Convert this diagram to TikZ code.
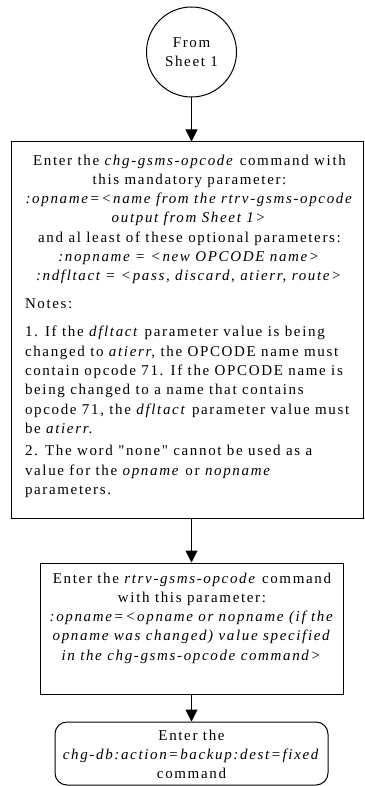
\documentclass[tikz,border=0pt]{standalone}
\usepackage{fontspec}
\setmainfont{Liberation Serif}[LetterSpace=11, Ligatures=TeXOff]
\usetikzlibrary{arrows.meta}
\begin{document}
\begin{tikzpicture}[x=1pt,y=-1pt,
  txt/.style={font=\fontsize{15}{19.3}\selectfont, inner sep=0pt, outer sep=0pt},
  box/.style={draw=black, line width=1pt, inner sep=0pt},
  arr/.style={draw=black, line width=1pt, -{Triangle[length=12pt,width=12pt]}},
]
\useasboundingbox (0,0) rectangle (364,786);
\node[box, circle, minimum size=90pt, txt, align=center] (start) at (191.5,52) {From\\Sheet 1};

\node[box, minimum width=352pt, minimum height=376pt] (chg) at (187,330) {};
\node[txt, align=center, anchor=north] (chgtxt) at (189.5,153) {\rule{0pt}{12pt}Enter the \textit{chg-gsms-opcode} command with\\
this mandatory parameter:\\
\textit{:opname=<name from the rtrv-gsms-opcode}\\
\textit{output from Sheet 1>}\\
and al least of these optional parameters:\\
\textit{:nopname = <new OPCODE name>}\\
\textit{:ndfltact = <pass, discard, atierr, route>}};
\node[txt, align=left, anchor=north west] (notes) at (25,296.8) {\rule{0pt}{12pt}Notes:};
\node[txt, align=left, anchor=north west] (note1) at (25,324.8) {\rule{0pt}{12pt}1. If the \textit{dfltact} parameter value is being\\
changed to \textit{atierr}, the OPCODE name must\\
contain opcode 71. If the OPCODE name is\\
being changed to a name that contains\\
opcode 71, the \textit{dfltact} parameter value must\\
be \textit{atierr}.};
\node[txt, align=left, anchor=north west] (note2) at (25,443.8) {\rule{0pt}{12pt}2. The word "none" cannot be used as a\\
value for the \textit{opname} or \textit{nopname}\\
parameters.};

\node[box, minimum width=303pt, minimum height=131pt] (rtrv) at (191.5,628.5) {};
\node[txt, align=center, anchor=north] (rtrvtxt) at (192,571) {\rule{0pt}{12pt}Enter the \textit{rtrv-gsms-opcode} command\\
with this parameter:\\
\textit{:opname=<opname or nopname (if the}\\
\textit{opname was changed) value specified}\\
\textit{in the chg-gsms-opcode command>}};

\node[box, rounded corners=12pt, minimum width=273pt, minimum height=63pt] (backup) at (191.5,753.5) {};
\node[txt, align=center, anchor=north] (backuptxt) at (191.5,728) {\rule{0pt}{12pt}Enter the\\
\textit{chg-db:action=backup:dest=fixed}\\
command};

\draw[arr] (start.south) -- (start.south |- chg.north);
\draw[arr] (rtrv.north |- chg.south) -- (rtrv.north);
\draw[arr] (rtrv.south) -- (backup.north);
\end{tikzpicture}
\end{document}
